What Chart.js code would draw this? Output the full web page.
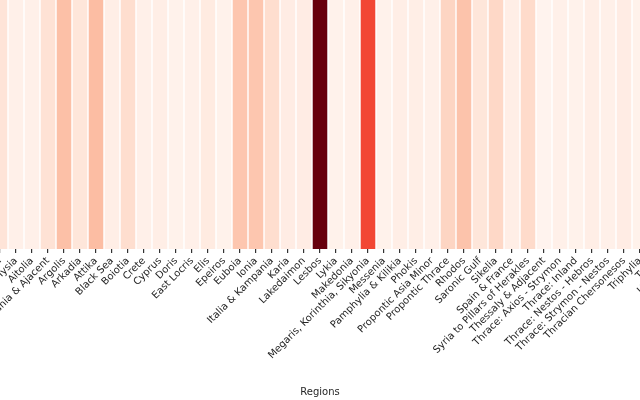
<!DOCTYPE html>
<html>
<head>
<meta charset="utf-8">
<script src="https://cdn.jsdelivr.net/npm/chart.js@4/dist/chart.umd.min.js"></script>
<style>
  html, body { margin: 0; padding: 0; background: #fff; overflow: hidden; }
  #wrap { position: relative; width: 640px; height: 400px; overflow: hidden; }
  /* the figure is wider than the window, it is cropped on both sides */
  #myChart { position: absolute; left: -40px; top: 0; }
</style>
</head>
<body>
<div id="wrap">
  <canvas id="myChart" width="720" height="400"></canvas>
</div>
<script>
const regions = [
  "Achaia", "Adriatic", "Aigina", "Aiolis & Mysia", "Aitolia",
  "Akarnania & Ajacent", "Argolis", "Arkadia", "Attika", "Black Sea",
  "Boiotia", "Crete", "Cyprus", "Doris", "East Locris", "Elis", "Epeiros",
  "Euboia", "Ionia", "Italia & Kampania", "Karia", "Lakedaimon", "Lesbos",
  "Lykia", "Makedonia", "Megaris, Korinthia, Sikyonia", "Messenia",
  "Pamphylia & Kilikia", "Phokis", "Propontic Asia Minor", "Propontic Thrace",
  "Rhodos", "Saronic Gulf", "Sikelia", "Spain & France",
  "Syria to Pillars of Herakles", "Thessaly & Adjacent",
  "Thrace: Axios - Strymon", "Thrace: Inland", "Thrace: Nestos - Hebros",
  "Thrace: Strymon - Nestos", "Thracian Chersonesos", "Triphylia", "Troas",
  "Unknown"
];

const counts = [
  3, 2, 12, 5, 5,
  13, 25, 11, 26, 6,
  15, 5, 6, 4, 5, 8, 4,
  23, 23, 15, 7, 7, 100,
  4, 5, 60, 4,
  6, 6, 5, 18,
  24, 11, 17, 6,
  16, 3,
  5, 4, 6,
  5, 7, 4, 5,
  2
];

// matplotlib "Reds"
const reds = [
  [255, 245, 240], [254, 224, 210], [252, 187, 161], [252, 146, 114],
  [251, 106, 74], [239, 59, 44], [203, 24, 29], [165, 15, 21], [103, 0, 13]
];

function redColor(t) {
  t = Math.max(0, Math.min(1, t));
  const p = t * (reds.length - 1);
  const i = Math.min(Math.floor(p), reds.length - 2);
  const f = p - i;
  const c = reds[i].map((v, k) => Math.round(v + (reds[i + 1][k] - v) * f));
  return "rgb(" + c.join(",") + ")";
}

const vmin = Math.min(...counts);
const vmax = Math.max(...counts);
const cellColors = counts.map(v => redColor((v - vmin) / (vmax - vmin)));

// one row heatmap: every cell is a floating bar over the whole row
const row = counts.map(() => [0, 1]);

const ctx = document.getElementById("myChart").getContext("2d");

const config = {
  type: "bar",
  data: {
    labels: regions,
    datasets: [{
      label: "count",
      data: row,
      backgroundColor: cellColors,
      borderWidth: 0,
      barPercentage: 0.91,
      categoryPercentage: 1.0
    }]
  },
  options: {
    responsive: false,
    animation: false,
    devicePixelRatio: 1,
    layout: { padding: 0 },
    plugins: {
      legend: { display: false },
      tooltip: { enabled: false }
    },
    scales: {
      x: {
        offset: true,
        grid: {
          display: true,
          offset: false,
          drawOnChartArea: false,
          drawTicks: true,
          tickLength: 4,
          tickColor: "#333",
          lineWidth: 1.2
        },
        border: { display: false },
        ticks: {
          autoSkip: false,
          minRotation: 45,
          maxRotation: 45,
          padding: 2,
          color: "#262626",
          font: { family: "DejaVu Sans", size: 10 }
        },
        title: {
          display: true,
          text: "Regions",
          color: "#262626",
          font: { family: "DejaVu Sans", size: 10 },
          padding: { top: 0, bottom: 2 }
        },
        afterFit: function (scale) {
          // keep the cells 16px wide, labels may run off the edges
          scale.paddingLeft = 0;
          scale.paddingRight = 0;
          scale.height = 151;
        }
      },
      y: {
        display: false,
        min: 0,
        max: 1
      }
    }
  }
};

const myChart = new Chart(ctx, config);
</script>
</body>
</html>
